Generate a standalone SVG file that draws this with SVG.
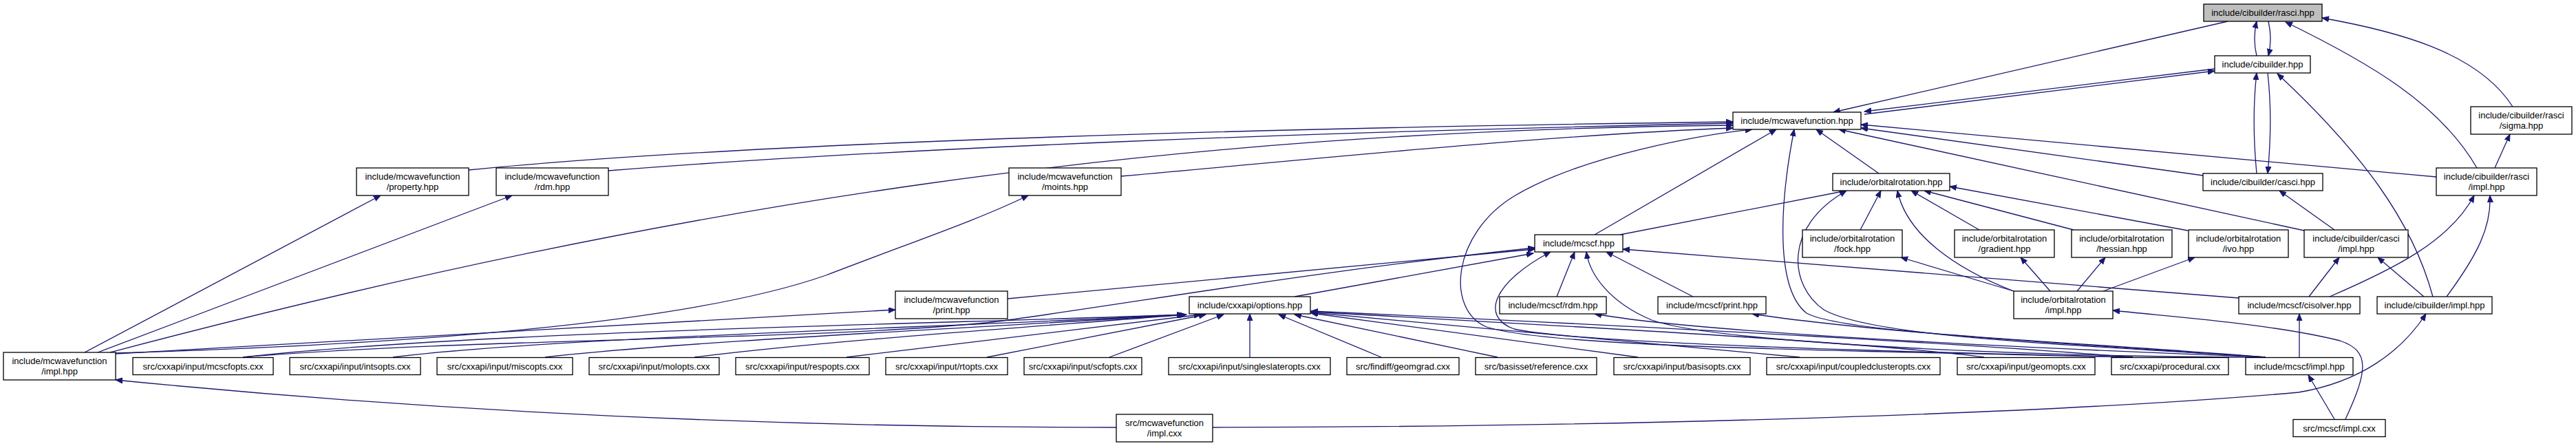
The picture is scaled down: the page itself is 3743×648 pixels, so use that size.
<svg xmlns="http://www.w3.org/2000/svg" width="3743" height="648" viewBox="0 0 3743 648">
<style>
.n rect{fill:#fff;stroke:#000;stroke-width:1.3}
.root rect{fill:#bfbfbf}
text{font-family:"Liberation Sans",Arial,Helvetica,sans-serif;font-size:13px;text-anchor:middle;fill:#000}
#edges path{fill:none;stroke:#191970;stroke-width:1.3;marker-end:url(#ah)}
</style>
<defs>
<marker id="ah" markerUnits="userSpaceOnUse" markerWidth="12" markerHeight="10" refX="10" refY="4" orient="auto">
<path d="M0,0 L10,4 L0,8 z" fill="#191970" stroke="#191970" stroke-width="1"/>
</marker>
</defs>
<rect width="3743" height="648" fill="#fff"/>
<g id="edges">
<path d="M3279,81 C3275,65 3275,48 3279,31"/>
<path d="M3296,31 C3300,48 3300,65 3296,81"/>
<path d="M3599,244 C3545,150 3440,90 3321,32"/>
<path d="M3651,155 C3600,75 3480,45 3374,26"/>
<path d="M3625,244 L3647,195"/>
<path d="M3237,31 L2664,163"/>
<path d="M3218,100 L2709,162"/>
<path d="M2709,166 L3218,103"/>
<path d="M3535,431 C3505,320 3430,220 3309,107"/>
<path d="M3279,252 C3274,200 3274,150 3279,106"/>
<path d="M3295,106 C3300,150 3300,200 3295,252"/>
<path d="M681,247 C1100,205 1900,185 2518,177"/>
<path d="M884,248 C1300,215 1900,192 2518,179"/>
<path d="M160,512 C1000,290 1700,190 2518,182"/>
<path d="M1629,256 C1900,232 2250,196 2518,186"/>
<path d="M3099,519 C2700,510 2250,505 2160,475 C2100,450 2110,340 2200,285 C2300,225 2480,195 2546,188"/>
<path d="M2317,341 L2581,188"/>
<path d="M3292,519 C3000,495 2680,485 2625,455 C2580,420 2585,300 2607,188"/>
<path d="M2730,252 L2639,188"/>
<path d="M3348,335 L2672,188"/>
<path d="M3201,255 L2704,186"/>
<path d="M3540,257 L2704,181"/>
<path d="M2354,341 L2683,277"/>
<path d="M3292,519 C3000,500 2720,490 2650,450 C2600,415 2590,330 2683,277"/>
<path d="M2703,334 L2733,277"/>
<path d="M2926,423 C2840,390 2770,340 2757,277"/>
<path d="M2876,334 L2777,277"/>
<path d="M3013,334 L2796,277"/>
<path d="M3179,335 L2833,271"/>
<path d="M3392,334 L3312,277"/>
<path d="M3385,431 C3480,390 3560,350 3595,284"/>
<path d="M3555,431 C3600,370 3620,330 3618,284"/>
<path d="M2926,423 L2762,374"/>
<path d="M2979,423 L2936,374"/>
<path d="M3018,423 L3059,374"/>
<path d="M3056,423 L3189,374"/>
<path d="M3355,431 L3399,374"/>
<path d="M3522,431 L3455,374"/>
<path d="M3253,433 L2358,362"/>
<path d="M3408,609 C3440,540 3445,510 3400,495 C3300,470 3150,460 3070,451"/>
<path d="M3392,609 L3354,545"/>
<path d="M3341,519 L3341,456"/>
<path d="M1762,621 C2400,620 3000,600 3340,570 C3430,555 3490,510 3525,456"/>
<path d="M1622,621 C1200,621 700,605 168,552"/>
<path d="M1464,434 L2230,362"/>
<path d="M353,519 C700,490 1200,495 1450,467 C1650,440 1900,395 2230,360"/>
<path d="M353,519 C700,480 1400,470 1720,457"/>
<path d="M571,519 C800,490 1400,475 1721,457"/>
<path d="M792,519 C1000,495 1450,475 1722,457"/>
<path d="M1009,519 C1200,495 1500,475 1724,457"/>
<path d="M1230,519 L1745,457"/>
<path d="M1434,519 L1752,457"/>
<path d="M1612,519 L1778,457"/>
<path d="M1816,519 L1816,456"/>
<path d="M2007,519 L1858,457"/>
<path d="M2176,519 L1881,457"/>
<path d="M2380,519 L1905,455"/>
<path d="M2615,519 L1905,454"/>
<path d="M2883,519 C2700,495 2200,470 1905,453"/>
<path d="M3099,519 C2800,495 2300,470 1905,452"/>
<path d="M1881,431 L2228,368"/>
<path d="M2262,431 L2288,366"/>
<path d="M2460,431 L2334,366"/>
<path d="M3292,519 C3000,520 2500,500 2400,465 C2340,440 2310,400 2305,366"/>
<path d="M3099,519 C2800,512 2300,500 2200,478 C2150,460 2170,410 2253,366"/>
<path d="M3292,519 C2800,500 2450,480 2317,456"/>
<path d="M3292,519 C3000,500 2700,480 2546,456"/>
<path d="M123,512 L553,284"/>
<path d="M142,512 L744,284"/>
<path d="M168,513 C600,500 1000,470 1200,400 C1330,350 1420,320 1494,284"/>
<path d="M168,514 C500,495 900,475 1301,450"/>
</g>
<g id="n_rasci" class="n root"><rect x="3202" y="6" width="172" height="25"/><text x="3288" y="23">include/cibuilder/rasci.hpp</text></g>
<g id="n_cibuilder" class="n"><rect x="3218" y="81" width="139" height="25"/><text x="3287.5" y="98">include/cibuilder.hpp</text></g>
<g id="n_mcwf" class="n"><rect x="2518" y="163" width="186" height="25"/><text x="2611" y="180">include/mcwavefunction.hpp</text></g>
<g id="n_sigma" class="n"><rect x="3590" y="155" width="147" height="40"/><text x="3663.5" y="172">include/cibuilder/rasci</text><text x="3663.5" y="187">/sigma.hpp</text></g>
<g id="n_property" class="n"><rect x="518" y="244" width="163" height="40"/><text x="599.5" y="261">include/mcwavefunction</text><text x="599.5" y="276">/property.hpp</text></g>
<g id="n_rdm" class="n"><rect x="721" y="244" width="163" height="40"/><text x="802.5" y="261">include/mcwavefunction</text><text x="802.5" y="276">/rdm.hpp</text></g>
<g id="n_moints" class="n"><rect x="1466" y="244" width="163" height="40"/><text x="1547.5" y="261">include/mcwavefunction</text><text x="1547.5" y="276">/moints.hpp</text></g>
<g id="n_orbrot" class="n"><rect x="2663" y="252" width="170" height="25"/><text x="2748" y="269">include/orbitalrotation.hpp</text></g>
<g id="n_casci" class="n"><rect x="3201" y="252" width="174" height="25"/><text x="3288" y="269">include/cibuilder/casci.hpp</text></g>
<g id="n_rasciimpl" class="n"><rect x="3540" y="244" width="146" height="40"/><text x="3613" y="261">include/cibuilder/rasci</text><text x="3613" y="276">/impl.hpp</text></g>
<g id="n_mcscf" class="n"><rect x="2230" y="341" width="128" height="25"/><text x="2294" y="358">include/mcscf.hpp</text></g>
<g id="n_fock" class="n"><rect x="2619" y="334" width="145" height="40"/><text x="2691.5" y="351">include/orbitalrotation</text><text x="2691.5" y="366">/fock.hpp</text></g>
<g id="n_gradient" class="n"><rect x="2840" y="334" width="145" height="40"/><text x="2912.5" y="351">include/orbitalrotation</text><text x="2912.5" y="366">/gradient.hpp</text></g>
<g id="n_hessian" class="n"><rect x="3010" y="334" width="146" height="40"/><text x="3083" y="351">include/orbitalrotation</text><text x="3083" y="366">/hessian.hpp</text></g>
<g id="n_ivo" class="n"><rect x="3180" y="334" width="145" height="40"/><text x="3252.5" y="351">include/orbitalrotation</text><text x="3252.5" y="366">/ivo.hpp</text></g>
<g id="n_casciimpl" class="n"><rect x="3348" y="334" width="151" height="40"/><text x="3423.5" y="351">include/cibuilder/casci</text><text x="3423.5" y="366">/impl.hpp</text></g>
<g id="n_mcwfprint" class="n"><rect x="1301" y="423" width="163" height="40"/><text x="1382.5" y="440">include/mcwavefunction</text><text x="1382.5" y="455">/print.hpp</text></g>
<g id="n_options" class="n"><rect x="1728" y="431" width="176" height="25"/><text x="1816" y="448">include/cxxapi/options.hpp</text></g>
<g id="n_mcscfrdm" class="n"><rect x="2179" y="431" width="155" height="25"/><text x="2256.5" y="448">include/mcscf/rdm.hpp</text></g>
<g id="n_mcscfprint" class="n"><rect x="2409" y="431" width="157" height="25"/><text x="2487.5" y="448">include/mcscf/print.hpp</text></g>
<g id="n_orbrotimpl" class="n"><rect x="2926" y="423" width="144" height="40"/><text x="2998" y="440">include/orbitalrotation</text><text x="2998" y="455">/impl.hpp</text></g>
<g id="n_cisolver" class="n"><rect x="3253" y="431" width="176" height="25"/><text x="3341" y="448">include/mcscf/cisolver.hpp</text></g>
<g id="n_cibimpl" class="n"><rect x="3454" y="431" width="167" height="25"/><text x="3537.5" y="448">include/cibuilder/impl.hpp</text></g>
<g id="n_mcwfimpl" class="n"><rect x="5" y="512" width="163" height="40"/><text x="86.5" y="529">include/mcwavefunction</text><text x="86.5" y="544">/impl.hpp</text></g>
<g id="n_mcscfopts" class="n"><rect x="193" y="519.5" width="204" height="25"/><text x="295" y="536.5">src/cxxapi/input/mcscfopts.cxx</text></g>
<g id="n_intsopts" class="n"><rect x="421" y="519.5" width="190" height="25"/><text x="516" y="536.5">src/cxxapi/input/intsopts.cxx</text></g>
<g id="n_miscopts" class="n"><rect x="635" y="519.5" width="197" height="25"/><text x="733.5" y="536.5">src/cxxapi/input/miscopts.cxx</text></g>
<g id="n_molopts" class="n"><rect x="856" y="519.5" width="189" height="25"/><text x="950.5" y="536.5">src/cxxapi/input/molopts.cxx</text></g>
<g id="n_respopts" class="n"><rect x="1069" y="519.5" width="194" height="25"/><text x="1166" y="536.5">src/cxxapi/input/respopts.cxx</text></g>
<g id="n_rtopts" class="n"><rect x="1287" y="519.5" width="177" height="25"/><text x="1375.5" y="536.5">src/cxxapi/input/rtopts.cxx</text></g>
<g id="n_scfopts" class="n"><rect x="1488" y="519.5" width="171" height="25"/><text x="1573.5" y="536.5">src/cxxapi/input/scfopts.cxx</text></g>
<g id="n_singleslater" class="n"><rect x="1698" y="519.5" width="235" height="25"/><text x="1815.5" y="536.5">src/cxxapi/input/singleslateropts.cxx</text></g>
<g id="n_geomgrad" class="n"><rect x="1957" y="519.5" width="163" height="25"/><text x="2038.5" y="536.5">src/findiff/geomgrad.cxx</text></g>
<g id="n_reference" class="n"><rect x="2144" y="519.5" width="176" height="25"/><text x="2232" y="536.5">src/basisset/reference.cxx</text></g>
<g id="n_basisopts" class="n"><rect x="2345" y="519.5" width="198" height="25"/><text x="2444" y="536.5">src/cxxapi/input/basisopts.cxx</text></g>
<g id="n_ccopts" class="n"><rect x="2567" y="519.5" width="252" height="25"/><text x="2693" y="536.5">src/cxxapi/input/coupledclusteropts.cxx</text></g>
<g id="n_geomopts" class="n"><rect x="2844" y="519.5" width="200" height="25"/><text x="2944" y="536.5">src/cxxapi/input/geomopts.cxx</text></g>
<g id="n_procedural" class="n"><rect x="3068" y="519.5" width="170" height="25"/><text x="3153" y="536.5">src/cxxapi/procedural.cxx</text></g>
<g id="n_mcscfimpl" class="n"><rect x="3263" y="519.5" width="156" height="25"/><text x="3341" y="536.5">include/mcscf/impl.hpp</text></g>
<g id="n_mcwfimplcxx" class="n"><rect x="1622" y="602" width="140" height="40"/><text x="1692" y="619">src/mcwavefunction</text><text x="1692" y="634">/impl.cxx</text></g>
<g id="n_mcscfimplcxx" class="n"><rect x="3332" y="609.5" width="134" height="25"/><text x="3399" y="626.5">src/mcscf/impl.cxx</text></g>
</svg>
